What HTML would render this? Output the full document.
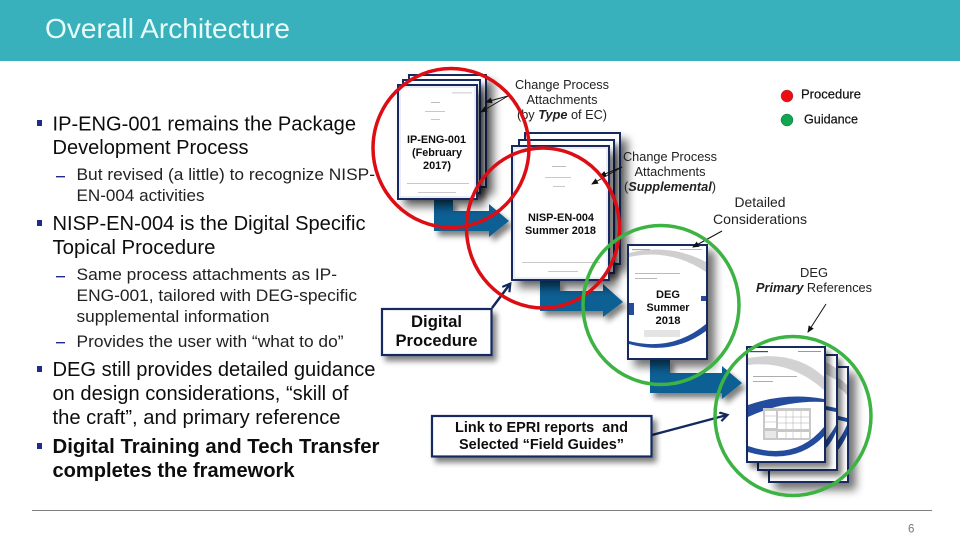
<!DOCTYPE html>
<html lang="en"><head><meta charset="utf-8"><title>Overall Architecture</title>
<style>html,body{margin:0;padding:0;background:#fff}svg{display:block}text{font-family:"Liberation Sans",sans-serif}</style></head>
<body>
<svg width="960" height="540" viewBox="0 0 960 540" xmlns="http://www.w3.org/2000/svg">
<defs>
<filter id="sh" x="-20%" y="-20%" width="150%" height="150%"><feGaussianBlur in="SourceAlpha" stdDeviation="3"/><feOffset dx="4" dy="5"/><feComponentTransfer><feFuncA type="linear" slope="0.5"/></feComponentTransfer><feMerge><feMergeNode/><feMergeNode in="SourceGraphic"/></feMerge></filter>
<filter id="shd" x="-30%" y="-30%" width="170%" height="170%"><feGaussianBlur in="SourceAlpha" stdDeviation="4.500"/><feOffset dx="7" dy="7"/><feComponentTransfer><feFuncA type="linear" slope="0.55"/></feComponentTransfer><feMerge><feMergeNode/><feMergeNode in="SourceGraphic"/></feMerge></filter>
<filter id="soft"><feGaussianBlur stdDeviation="0.3"/></filter>
<clipPath id="c1"><rect x="748" y="348" width="76" height="113"/></clipPath>
<clipPath id="c2"><rect x="629" y="246" width="77" height="112"/></clipPath>
<marker id="ah" markerWidth="7" markerHeight="7" refX="6" refY="3" orient="auto" markerUnits="userSpaceOnUse"><path d="M0,0L7,3L0,6z" fill="#111"/></marker>
<marker id="ahn" markerWidth="11" markerHeight="11" refX="8" refY="5" orient="auto" markerUnits="userSpaceOnUse"><path d="M1,0.5L8.5,5L1,9.5" fill="none" stroke="#12295f" stroke-width="2.2"/></marker>
</defs>
<rect width="960" height="540" fill="#fff"/>
<rect width="960" height="61" fill="#38b1bc"/>
<text x="45" y="38" font-size="28" fill="#e8fbfb" textLength="245" lengthAdjust="spacingAndGlyphs">Overall Architecture</text>

<!-- bullets -->
<g fill="#1f2b8c"><rect x="37" y="120" width="5" height="6"/><rect x="37" y="220" width="5" height="6"/><rect x="37" y="366" width="5" height="6"/><rect x="37" y="443" width="5" height="6"/>
<rect x="56" y="176" width="9" height="1.4"/><rect x="56" y="276" width="9" height="1.4"/><rect x="56" y="342" width="9" height="1.4"/></g>
<g fill="#111" font-size="20" filter="url(#soft)">
<text x="52.5" y="130.500" textLength="303.500" lengthAdjust="spacingAndGlyphs">IP-ENG-001 remains the Package</text>
<text x="52.500" y="154" textLength="196" lengthAdjust="spacingAndGlyphs">Development Process</text>
<text x="52.500" y="230" textLength="313" lengthAdjust="spacingAndGlyphs">NISP-EN-004 is the Digital Specific</text>
<text x="52.500" y="254" textLength="163" lengthAdjust="spacingAndGlyphs">Topical Procedure</text>
<text x="52.500" y="376" textLength="323" lengthAdjust="spacingAndGlyphs">DEG still provides detailed guidance</text>
<text x="52.500" y="400" textLength="296" lengthAdjust="spacingAndGlyphs">on design considerations, “skill of</text>
<text x="52.500" y="424" textLength="288" lengthAdjust="spacingAndGlyphs">the craft”, and primary reference</text>
<text x="52.500" y="453" font-weight="700" textLength="327" lengthAdjust="spacingAndGlyphs">Digital Training and Tech Transfer</text>
<text x="52.500" y="477" font-weight="700" textLength="242" lengthAdjust="spacingAndGlyphs">completes the framework</text>
</g>
<g fill="#222" font-size="17" filter="url(#soft)">
<text x="76.500" y="180" textLength="298.500" lengthAdjust="spacingAndGlyphs">But revised (a little) to recognize NISP-</text>
<text x="76.500" y="201" textLength="128" lengthAdjust="spacingAndGlyphs">EN-004 activities</text>
<text x="76.500" y="280" textLength="260.500" lengthAdjust="spacingAndGlyphs">Same process attachments as IP-</text>
<text x="76.500" y="301" textLength="280.500" lengthAdjust="spacingAndGlyphs">ENG-001, tailored with DEG-specific</text>
<text x="76.500" y="322" textLength="193" lengthAdjust="spacingAndGlyphs">supplemental information</text>
<text x="76.500" y="347" textLength="267" lengthAdjust="spacingAndGlyphs">Provides the user with “what to do”</text>
</g>

<!-- arrows -->
<g fill="#0f6094" filter="url(#sh)">
<path d="M434,199H453V211H489V204L509,221L489,237V231H434z"/>
<path d="M540,280H560V291H603V284L623,302L603,317V311H540z"/>
<path d="M650,359H670V373H722V366L742,383L722,399V393H650z"/>
</g>

<!-- IP-ENG stack -->
<g fill="#fff" stroke="#14295f" stroke-width="2">
<rect x="409" y="75" width="77" height="112" filter="url(#shd)"/>
<rect x="403" y="80" width="77" height="113" filter="url(#sh)"/>
<rect x="398" y="85" width="79" height="114" filter="url(#shd)"/>
</g>
<rect x="400" y="87" width="75" height="110" fill="none" stroke="#cbd3e2" stroke-width="0.8"/>
<g fill="#bbb"><rect x="452" y="92.500" width="20" height="0.800"/><rect x="431" y="102" width="9" height="1"/><rect x="425" y="111" width="20" height="0.800"/><rect x="431" y="119" width="9" height="0.800"/><rect x="407" y="183" width="62" height="0.800"/><rect x="418" y="192" width="38" height="0.800"/></g>
<g fill="#111" font-size="11" font-weight="700" text-anchor="middle" filter="url(#soft)">
<text x="436.500" y="143" textLength="59" lengthAdjust="spacingAndGlyphs">IP-ENG-001</text>
<text x="437" y="156" textLength="50" lengthAdjust="spacingAndGlyphs">(February</text>
<text x="437" y="169" textLength="28" lengthAdjust="spacingAndGlyphs">2017)</text>
</g>

<!-- NISP stack -->
<g fill="#fff" stroke="#14295f" stroke-width="2">
<rect x="525" y="133" width="95" height="131" filter="url(#shd)"/>
<rect x="519" y="140" width="95" height="133" filter="url(#sh)"/>
<rect x="512" y="146" width="97" height="134" filter="url(#shd)"/>
</g>
<rect x="514" y="148" width="93" height="130" fill="none" stroke="#cbd3e2" stroke-width="0.8"/>
<g fill="#bbb"><rect x="552" y="166" width="14" height="1"/><rect x="545" y="177" width="26" height="0.800"/><rect x="553" y="186" width="12" height="0.800"/><rect x="522" y="262" width="78" height="0.800"/><rect x="548" y="271" width="30" height="0.800"/></g>
<g fill="#111" font-size="11" font-weight="700" text-anchor="middle" filter="url(#soft)">
<text x="561" y="221" textLength="66" lengthAdjust="spacingAndGlyphs">NISP-EN-004</text>
<text x="560.500" y="234" textLength="71" lengthAdjust="spacingAndGlyphs">Summer 2018</text>
</g>

<!-- DEG doc -->
<rect x="628" y="245" width="79" height="114" fill="#fff" stroke="#14295f" stroke-width="2" filter="url(#shd)"/>
<g clip-path="url(#c2)">
<path d="M629,257Q670,248 706,272V262Q670,243 629,253z" fill="#cfcfcf"/>
<path d="M629,341Q672,352 706,324V331Q672,356 629,344z" fill="#234c9e"/>
<rect x="629" y="303" width="5" height="12" fill="#234c9e"/><rect x="701" y="296" width="5" height="5" fill="#234c9e"/>
</g>
<rect x="644" y="330" width="36" height="7" fill="#e4e4e4"/>
<g fill="#aaa"><rect x="632" y="249" width="18" height="1.200"/><rect x="680" y="249" width="22" height="0.800"/><rect x="635" y="273" width="45" height="0.800"/><rect x="635" y="278" width="22" height="0.800"/></g>
<g fill="#111" font-size="11" font-weight="700" text-anchor="middle" filter="url(#soft)">
<text x="668" y="298" textLength="24" lengthAdjust="spacingAndGlyphs">DEG</text>
<text x="668" y="311" textLength="43" lengthAdjust="spacingAndGlyphs">Summer</text>
<text x="668" y="324" textLength="25" lengthAdjust="spacingAndGlyphs">2018</text>
</g>

<!-- DEG stack -->
<g stroke="#14295f" stroke-width="2" fill="#fff">
<rect x="769" y="367" width="79" height="115" filter="url(#shd)"/>
<path d="M826,372Q838,376 847,385V395Q838,385 826,382z" fill="#ccc" stroke="none"/>
<path d="M826,413L847,418V422L826,417z M826,452Q838,445 847,425V435Q838,455 826,458z" fill="#234c9e" stroke="none"/>
<rect x="758" y="355" width="79" height="115" filter="url(#sh)"/>
<path d="M826,362L836,368V380L826,374z" fill="#ccc" stroke="none"/>
<path d="M826,406L836,408V412L826,410z M826,440Q832,432 836,425V432Q832,442 826,448z" fill="#234c9e" stroke="none"/>
<rect x="747" y="347" width="78" height="115" filter="url(#sh)"/>
</g>
<g clip-path="url(#c1)">
<path d="M748,358Q795,350 824,377V390Q790,360 748,365z" fill="#d2d2d2"/>
<path d="M748,405Q785,392 824,399V402Q785,400 748,417z" fill="#234c9e"/>
<path d="M748,446Q795,462 824,427V436Q795,466 748,452z" fill="#234c9e"/>
</g>
<rect x="763" y="408" width="48" height="32" fill="#c8c8c8"/>
<g fill="#fff"><rect x="765" y="411" width="11" height="17"/><rect x="778" y="411" width="31" height="18"/><rect x="778" y="432" width="31" height="6"/><rect x="765" y="431" width="11" height="7" fill="#e8e8e8"/></g>
<g stroke="#aaa" stroke-width="0.500"><path d="M765,416H776M765,422H776M778,417H809M778,423H809M786,411V429M793,411V429M801,411V429M786,432V438M793,432V438M801,432V438"/></g>
<g fill="#999"><rect x="750" y="351" width="18" height="1.200" fill="#27509c"/><rect x="798" y="351" width="23" height="1"/><rect x="753" y="376" width="44" height="0.800"/><rect x="753" y="381" width="20" height="0.800"/></g>

<!-- boxes -->
<path d="M492,308L510,284" stroke="#12295f" stroke-width="2.500" fill="none" marker-end="url(#ahn)"/>
<path d="M652,435L727,415" stroke="#12295f" stroke-width="2.200" fill="none" marker-end="url(#ahn)"/>
<rect x="382" y="309" width="109.500" height="46" fill="#fff" stroke="#14295f" stroke-width="2.200" filter="url(#sh)"/>
<rect x="432" y="416" width="219.500" height="40.500" fill="#fff" stroke="#14295f" stroke-width="2.200" filter="url(#sh)"/>
<g fill="#111" font-weight="700" text-anchor="middle" filter="url(#soft)">
<text x="436.500" y="327" font-size="16.200" textLength="51" lengthAdjust="spacingAndGlyphs">Digital</text>
<text x="436.500" y="346" font-size="16.200" textLength="82" lengthAdjust="spacingAndGlyphs">Procedure</text>
<text x="541.500" y="432" font-size="14.300" textLength="173" xml:space="preserve" lengthAdjust="spacingAndGlyphs">Link to EPRI reports  and</text>
<text x="541.500" y="449" font-size="14.300" textLength="165" lengthAdjust="spacingAndGlyphs">Selected “Field Guides”</text>
</g>

<!-- annotation pointers -->
<g stroke="#111" stroke-width="1" fill="none" marker-end="url(#ah)">
<path d="M508,96L486,102"/><path d="M508,96L481,112"/>
<path d="M622,167L600,176"/><path d="M622,167L592,184"/>
<path d="M722,231L693,247"/>
<path d="M826,304L808,332"/>
</g>

<!-- annotations -->
<g fill="#222" text-anchor="middle" filter="url(#soft)">
<g font-size="12.700">
<text x="562" y="89" textLength="94" lengthAdjust="spacingAndGlyphs">Change Process</text>
<text x="562" y="104" textLength="71" lengthAdjust="spacingAndGlyphs">Attachments</text>
<text x="562" y="119" textLength="90" lengthAdjust="spacingAndGlyphs">(by <tspan font-weight="700" font-style="italic">Type</tspan> of EC)</text>
<text x="670" y="161" textLength="94" lengthAdjust="spacingAndGlyphs">Change Process</text>
<text x="670" y="176" textLength="71" lengthAdjust="spacingAndGlyphs">Attachments</text>
<text x="670" y="191" textLength="92" lengthAdjust="spacingAndGlyphs">(<tspan font-weight="700" font-style="italic">Supplemental</tspan>)</text>
</g>
<text x="760" y="207" font-size="14" textLength="51" lengthAdjust="spacingAndGlyphs">Detailed</text>
<text x="760" y="224" font-size="14" textLength="94" lengthAdjust="spacingAndGlyphs">Considerations</text>
<text x="814" y="277" font-size="13" textLength="28" lengthAdjust="spacingAndGlyphs">DEG</text>
<text x="814" y="292" font-size="13" textLength="116" lengthAdjust="spacingAndGlyphs"><tspan font-weight="700" font-style="italic">Primary</tspan> References</text>
</g>

<!-- circles -->
<g fill="none" stroke-width="3.500">
<ellipse cx="451" cy="148" rx="78" ry="79.500" stroke="#dc0d14"/>
<ellipse cx="543" cy="228" rx="76.500" ry="80" stroke="#dc0d14"/>
<ellipse cx="661" cy="305" rx="78" ry="79.500" stroke="#3db343"/>
<ellipse cx="793" cy="416" rx="78" ry="79.500" stroke="#3db343"/>
</g>

<!-- legend -->
<circle cx="787" cy="96" r="6" fill="#ee0c12" stroke="#8a4a4a" stroke-width="0.500"/>
<circle cx="787" cy="120" r="6" fill="#0fa650" stroke="#2a6a4a" stroke-width="0.500"/>
<text x="801" y="98.500" font-size="13" fill="#111" stroke="#111" stroke-width="0.200" textLength="60" lengthAdjust="spacingAndGlyphs">Procedure</text>
<text x="804" y="123.500" font-size="12.600" fill="#111" stroke="#111" stroke-width="0.200" textLength="54" lengthAdjust="spacingAndGlyphs">Guidance</text>

<!-- footer -->
<rect x="32" y="510" width="900" height="1" fill="#808080"/>
<text x="908" y="532.500" font-size="11.500" fill="#777">6</text>
</svg>
</body></html>
